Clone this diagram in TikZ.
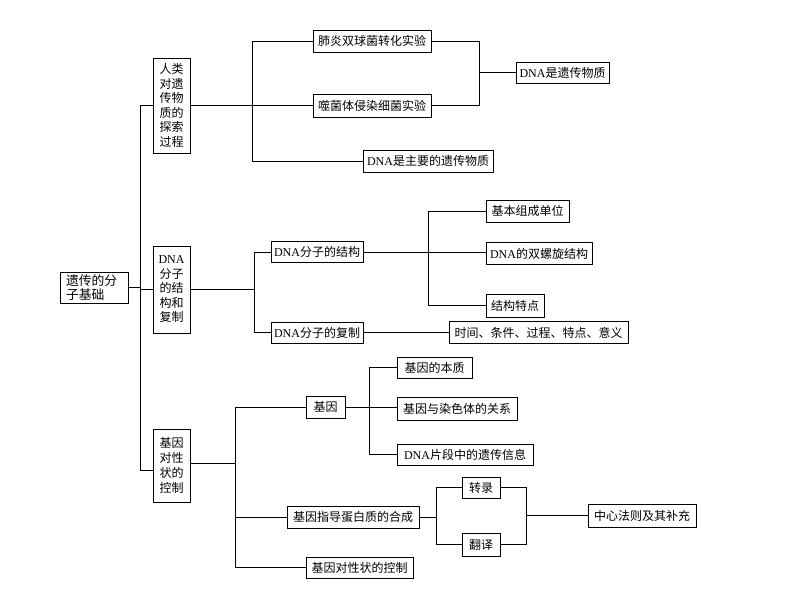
\documentclass[tikz,border=0pt]{standalone}
\usepackage{fontspec}
\setmainfont{Noto Sans CJK SC}
\newfontfamily\lat{Liberation Serif}
\usetikzlibrary{shadows}
\newcommand\DNA{{\lat DNA}}
\newcommand\fs{\fontsize{12}{14.5}\selectfont}
\begin{document}
\begin{tikzpicture}[x=1pt,y=-1pt,
  ln/.style={line width=0.9pt, draw=black},
  box/.style={draw=black, line width=0.9pt, fill=white, inner sep=0pt,
    font=\fs, minimum height=22pt,
    drop shadow={shadow xshift=0.9pt, shadow yshift=-0.9pt, fill=black!40, opacity=1}},
  vbox/.style={box, align=center, text width=#1},
  vbox/.default=37pt]
\useasboundingbox (0,0) rectangle (794,596);
\fill[white] (0,0) rectangle (794,596);

% root and level 1
\node[box, align=left, minimum width=68pt, minimum height=31pt, text width=56pt, font=\fontsize{12.8}{14.5}\selectfont] (root) at (94,287.5) {遗传的分\\子基础};
\node[vbox, minimum height=95pt] (a) at (171.5,105.5) {人类\\对遗\\传物\\质的\\探索\\过程};
\node[vbox, minimum height=87pt] (b) at (171.5,289.5) {\DNA\\分子\\的结\\构和\\复制};
\node[vbox, minimum height=73pt, font=\fontsize{12}{15}\selectfont] (c) at (171.5,465.5) {基因\\对性\\状的\\控制};

% group A
\node[box, minimum width=118pt] (a1) at (372,41) {肺炎双球菌转化实验};
\node[box, minimum width=118pt, minimum height=23pt] (a2) at (372,105.5) {噬菌体侵染细菌实验};
\node[box, minimum width=130pt] (a3) at (428,161) {\DNA 是主要的遗传物质};
\node[box, minimum width=93pt, minimum height=21pt] (a4) at (562.5,72.5) {\DNA 是遗传物质};

% group B
\node[box, minimum width=92pt, minimum height=21pt] (b1) at (317,252) {\DNA 分子的结构};
\node[box, minimum width=92pt, minimum height=21pt] (b2) at (317,332.5) {\DNA 分子的复制};
\node[box, minimum width=83pt] (b11) at (527.5,211) {基本组成单位};
\node[box, minimum width=106pt] (b12) at (539,253.5) {\DNA 的双螺旋结构};
\node[box, minimum width=58pt, minimum height=23pt] (b13) at (515,305.5) {结构特点};
\node[box, minimum width=179pt] (b21) at (538.5,332.5) {时间、条件、过程、特点、意义};

% group C
\node[box, minimum width=39pt] (c1) at (325.5,407) {基因};
\node[box, minimum width=132pt] (c2) at (353,517) {基因指导蛋白质的合成};
\node[box, minimum width=107pt, minimum height=21pt] (c3) at (359.5,567.5) {基因对性状的控制};
\node[box, minimum width=75pt, minimum height=21pt] (c11) at (434.5,367.5) {基因的本质};
\node[box, minimum width=120pt, minimum height=23pt] (c12) at (457,408.5) {基因与染色体的关系};
\node[box, minimum width=136pt, minimum height=21pt] (c13) at (465,454.5) {\DNA 片段中的遗传信息};
\node[box, minimum width=38pt, minimum height=21pt] (c21) at (481,487.5) {转录};
\node[box, minimum width=38pt, minimum height=23pt] (c22) at (481,544.5) {翻译};
\node[box, minimum width=108pt, minimum height=23pt] (c23) at (642,515.5) {中心法则及其补充};

% junction coordinates
\coordinate (tr) at (140,0);
\coordinate (ja) at (252,0);
\coordinate (jb) at (479,0);
\coordinate (jB) at (254,0);
\coordinate (jC) at (428,0);
\coordinate (jD) at (235,0);
\coordinate (jE) at (369,0);
\coordinate (jF) at (436,0);
\coordinate (jG) at (526,0);
\coordinate (cw) at ([yshift=-5pt]c.west);
\coordinate (ce) at ([yshift=2.5pt]c.east);

% trunk
\draw[ln] (a.west) -- (a.west -| tr) -- (tr |- cw) -- (cw);
\draw[ln] (root.east) -- (root.east -| tr);
\draw[ln] (b.west) -- (b.west -| tr);
% group A
\draw[ln] (a.east) -- (a.east -| ja);
\draw[ln] (a1.west) -| (ja |- a3.west) -- (a3.west);
\draw[ln] (a2.west) -- (a2.west -| ja);
\draw[ln] (a1.east) -| (jb |- a2.east) -- (a2.east);
\draw[ln] (a4.west) -- (a4.west -| jb);
% group B
\draw[ln] (b.east) -- (b.east -| jB);
\draw[ln] (b1.west) -| (jB |- b2.west) -- (b2.west);
\draw[ln] (b11.west) -| (jC |- b13.west) -- (b13.west);
\draw[ln] (b1.east) -- (b1.east -| b12.west);
\draw[ln] (b2.east) -- (b2.east -| b21.west);
% group C
\draw[ln] (ce) -- (ce -| jD);
\draw[ln] (c1.west) -| (jD |- c3.west) -- (c3.west);
\draw[ln] (c2.west) -- (c2.west -| jD);
\draw[ln] (c11.west) -| (jE |- c13.west) -- (c13.west);
\draw[ln] (c1.east) -- (c1.east -| c12.west);
\draw[ln] (c21.west) -| (jF |- c22.west) -- (c22.west);
\draw[ln] (c2.east) -- (c2.east -| jF);
\draw[ln] (c21.east) -| (jG |- c22.east) -- (c22.east);
\draw[ln] (c23.west) -- (c23.west -| jG);
\end{tikzpicture}
\end{document}
